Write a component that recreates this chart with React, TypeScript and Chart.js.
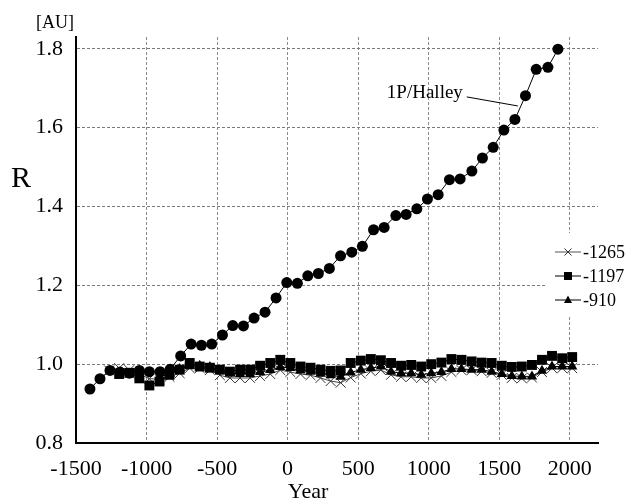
import React, { useEffect, useRef } from "react";
import { Chart, registerables } from "chart.js";

Chart.register(...registerables);

const xTickValues = [-1500, -1000, -500, 0, 500, 1000, 1500, 2000];
const yTickValues = [0.8, 1.0, 1.2, 1.4, 1.6, 1.8];

const halleyYears = [
  -1401, -1330, -1259, -1188, -1122, -1051, -980, -904, -833, -758, -684, -611, -538, -462, -389,
  -313, -238, -160, -82, -6, 69, 143, 218, 296, 375, 455, 530, 609, 684, 767, 840, 916, 991,
  1067, 1147, 1223, 1306, 1381, 1457, 1533, 1611, 1686, 1762, 1845, 1916,
];
const halleyR = [
  0.937, 0.963, 0.984, 0.98, 0.977, 0.984, 0.981, 0.981, 0.987, 1.021, 1.051, 1.048, 1.051, 1.074,
  1.098, 1.097, 1.117, 1.132, 1.168, 1.207, 1.205, 1.224, 1.23, 1.243, 1.275, 1.284, 1.299, 1.341,
  1.347, 1.377, 1.38, 1.394, 1.419, 1.43, 1.468, 1.47, 1.49, 1.523, 1.55, 1.594, 1.621, 1.681,
  1.748, 1.753, 1.799,
];

const years1265 = [
  -1265, -1194, -1122, -1051, -980, -908, -837, -765, -694, -623, -551, -480, -409, -337, -266,
  -195, -123, -52, 19, 91, 162, 233, 305, 376, 447, 519, 590, 661, 733, 804, 876, 947, 1018, 1090,
  1161, 1232, 1304, 1375, 1446, 1518, 1589, 1660, 1732, 1803, 1874, 1946, 2017,
];
const r1265 = [
  0.984, 0.99, 0.985, 0.975, 0.963, 0.962, 0.968, 0.977, 0.99, 0.99, 0.985, 0.972, 0.965, 0.965,
  0.965, 0.97, 0.975, 0.985, 0.98, 0.975, 0.972, 0.965, 0.957, 0.953, 0.966, 0.976, 0.982, 0.985,
  0.973, 0.968, 0.968, 0.965, 0.965, 0.97, 0.98, 0.985, 0.985, 0.982, 0.978, 0.973, 0.965, 0.964,
  0.966, 0.98, 0.99, 0.99, 0.99,
];

const years1197 = [
  -1194, -1122, -1051, -980, -908, -837, -765, -694, -623, -551, -480, -409, -337, -266, -195,
  -123, -52, 19, 91, 162, 233, 305, 376, 447, 519, 590, 661, 733, 804, 876, 947, 1018, 1090, 1161,
  1232, 1304, 1375, 1446, 1518, 1589, 1660, 1732, 1803, 1874, 1946, 2017,
];
const r1197 = [
  0.975, 0.978, 0.964, 0.946, 0.956, 0.973, 0.986, 1.003, 0.994, 0.991, 0.986, 0.981, 0.986, 0.986,
  0.996, 1.003, 1.011, 1.003, 0.994, 0.991, 0.986, 0.983, 0.984, 1.003, 1.009, 1.013, 1.01, 1.003,
  0.996, 0.998, 0.994, 1.0, 1.004, 1.013, 1.011, 1.007, 1.004, 1.003, 0.996, 0.993, 0.994, 0.998,
  1.011, 1.021, 1.015, 1.018,
];

const years910 = [
  -908, -837, -765, -694, -623, -551, -480, -409, -337, -266, -195, -123, -52, 19, 91, 162, 233,
  305, 376, 447, 519, 590, 661, 733, 804, 876, 947, 1018, 1090, 1161, 1232, 1304, 1375, 1446, 1518,
  1589, 1660, 1732, 1803, 1874, 1946, 2017,
];
const r910 = [
  0.968, 0.975, 0.988, 0.995, 0.996, 0.993, 0.983, 0.977, 0.975, 0.975, 0.98, 0.985, 0.993, 0.99,
  0.984, 0.981, 0.976, 0.972, 0.968, 0.979, 0.986, 0.99, 0.994, 0.981, 0.977, 0.977, 0.973, 0.977,
  0.98, 0.988, 0.988, 0.986, 0.986, 0.981, 0.975, 0.97, 0.969, 0.969, 0.983, 0.994, 0.994, 0.994,
];

const seriesNames = ["1P/Halley", "-1265", "-1197", "-910"];

const FONT = "'Liberation Serif', 'DejaVu Serif', serif";

const pts = (xs: number[], ys: number[]) => xs.map((x, i) => ({ x, y: ys[i] }));

function drawMarker(ctx: CanvasRenderingContext2D, kind: string, x: number, y: number, r: number) {
  ctx.save();
  ctx.fillStyle = "#000";
  ctx.strokeStyle = "#333";
  ctx.lineWidth = 1;
  if (kind === "cross") {
    ctx.beginPath();
    ctx.moveTo(x - r, y - r);
    ctx.lineTo(x + r, y + r);
    ctx.moveTo(x - r, y + r);
    ctx.lineTo(x + r, y - r);
    ctx.stroke();
  } else if (kind === "square") {
    ctx.fillRect(x - r, y - r, 2 * r, 2 * r);
  } else if (kind === "triangle") {
    ctx.beginPath();
    ctx.moveTo(x, y - r * 1.1);
    ctx.lineTo(x + r, y + r * 0.75);
    ctx.lineTo(x - r, y + r * 0.75);
    ctx.closePath();
    ctx.fill();
  }
  ctx.restore();
}

const decorPlugin = {
  id: "decor",
  afterDraw(chart: any) {
    const ctx: CanvasRenderingContext2D = chart.ctx;
    const xs = chart.scales.x;
    const ys = chart.scales.y;
    const area = chart.chartArea;
    ctx.save();
    ctx.fillStyle = "#000";
    ctx.textBaseline = "middle";
    ctx.textAlign = "center";
    ctx.font = `18px ${FONT}`;
    ctx.fillText("[AU]", area.left - 21, area.top - 14);
    ctx.font = `30px ${FONT}`;
    ctx.fillText("R", 21, 179);
    ctx.font = `22px ${FONT}`;
    ctx.fillText("Year", 308, 492);

    // annotation
    ctx.font = `19px ${FONT}`;
    ctx.textAlign = "right";
    ctx.fillText(seriesNames[0], xs.getPixelForValue(1242), ys.getPixelForValue(1.688));
    ctx.strokeStyle = "#000";
    ctx.lineWidth = 1;
    ctx.beginPath();
    ctx.moveTo(xs.getPixelForValue(1270), ys.getPixelForValue(1.678));
    ctx.lineTo(xs.getPixelForValue(1632), ys.getPixelForValue(1.655));
    ctx.stroke();

    // legend
    const lx = area.right - 53;
    const ly = 233;
    ctx.fillStyle = "#fff";
    ctx.fillRect(lx, ly, 632 - lx, 82);
    const kinds = ["cross", "square", "triangle"];
    ctx.font = `18px ${FONT}`;
    ctx.textAlign = "left";
    for (let i = 0; i < 3; i++) {
      const cy = ly + 19 + i * 24;
      ctx.strokeStyle = i === 0 ? "#555" : "#000";
      ctx.lineWidth = 1;
      ctx.beginPath();
      ctx.moveTo(lx + 10, cy);
      ctx.lineTo(lx + 36, cy);
      ctx.stroke();
      drawMarker(ctx, kinds[i], lx + 23, cy, i === 0 ? 3.5 : 4);
      ctx.fillStyle = "#000";
      ctx.fillText(seriesNames[i + 1], lx + 38, cy + 1);
    }
    ctx.restore();
  },
};

export default function App() {
  const ref = useRef<HTMLCanvasElement | null>(null);
  useEffect(() => {
    if (!ref.current) return;
    const chart = new Chart(ref.current, {
      type: "line",
      data: {
        datasets: [
          {
            label: seriesNames[0],
            data: pts(halleyYears, halleyR),
            borderColor: "#000",
            borderWidth: 1,
            pointStyle: "circle",
            pointRadius: 5.5,
            pointBackgroundColor: "#000",
            pointBorderWidth: 0,
            order: 0,
          },
          {
            label: seriesNames[2],
            data: pts(years1197, r1197),
            borderColor: "#000",
            borderWidth: 1,
            pointStyle: "rect",
            pointRadius: 7,
            pointBackgroundColor: "#000",
            pointBorderWidth: 0,
            order: 1,
          },
          {
            label: seriesNames[3],
            data: pts(years910, r910),
            borderColor: "#000",
            borderWidth: 1,
            pointStyle: "triangle",
            pointRadius: 6,
            pointBackgroundColor: "#000",
            pointBorderWidth: 0,
            order: 2,
          },
          {
            label: seriesNames[1],
            data: pts(years1265, r1265),
            borderColor: "#444",
            borderWidth: 1,
            pointStyle: "crossRot",
            pointRadius: 7,
            pointBorderColor: "#333",
            pointBorderWidth: 1,
            order: 3,
          },
        ],
      },
      options: {
        animation: false,
        responsive: false,
        events: [],
        layout: { padding: { left: 0, right: 34, top: 37, bottom: 0 } },
        plugins: { legend: { display: false }, tooltip: { enabled: false } },
        scales: {
          x: {
            type: "linear",
            min: -1500,
            max: 2200,
            afterBuildTicks: (s: any) => {
              s.ticks = xTickValues.map((v) => ({ value: v }));
            },
            afterFit: (s: any) => {
              s.height = 58;
            },
            ticks: {
              color: "#000",
              font: { family: FONT, size: 22 },
              padding: 13,
              maxRotation: 0,
              autoSkip: false,
              callback: (v: any) => String(v),
            },
            grid: { color: "#8a8a8a", lineWidth: 1, drawTicks: false },
            border: { color: "#000", width: 2, dash: [3, 2] },
          },
          y: {
            type: "linear",
            min: 0.8,
            max: 1.83,
            afterBuildTicks: (s: any) => {
              s.ticks = yTickValues.map((v) => ({ value: v }));
            },
            afterFit: (s: any) => {
              s.width = 76;
            },
            ticks: {
              color: "#000",
              font: { family: FONT, size: 22 },
              padding: 13,
              autoSkip: false,
              callback: (v: any) => Number(v).toFixed(1),
            },
            grid: { color: "#7a7a7a", lineWidth: 1, drawTicks: false },
            border: { color: "#000", width: 2, dash: [3, 2] },
          },
        },
      },
      plugins: [decorPlugin],
    });
    return () => chart.destroy();
  }, []);
  return (
    <div style={{ position: "fixed", left: 0, top: 0, width: 632, height: 501, background: "#fff" }}>
      <canvas ref={ref} width={632} height={501} />
    </div>
  );
}
